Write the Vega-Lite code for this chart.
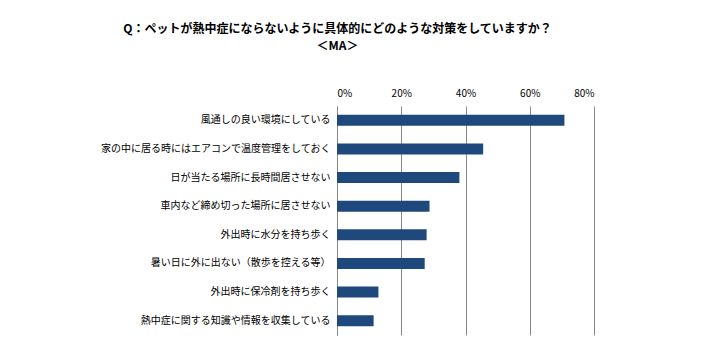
{
  "$schema": "https://vega.github.io/schema/vega-lite/v6.json",
  "autosize": "none",
  "width": 257,
  "height": 229,
  "padding": {"left": 337, "top": 106, "right": 110, "bottom": 22},
  "background": "white",
  "title": {
    "text": ["Q：ペットが熱中症にならないように具体的にどのような対策をしていますか？", "＜MA＞"],
    "font": "Noto Sans CJK JP",
    "fontSize": 12,
    "fontWeight": "bold",
    "color": "#000000",
    "lineHeight": 17,
    "anchor": "middle",
    "frame": "group",
    "dx": -128,
    "offset": 35
  },
  "data": {
    "values": [
      {"item": "風通しの良い環境にしている", "pct": 70.8},
      {"item": "家の中に居る時にはエアコンで温度管理をしておく", "pct": 45.5},
      {"item": "日が当たる場所に長時間居させない", "pct": 38.1},
      {"item": "車内など締め切った場所に居させない", "pct": 28.8},
      {"item": "外出時に水分を持ち歩く", "pct": 27.9},
      {"item": "暑い日に外に出ない（散歩を控える等）", "pct": 27.3},
      {"item": "外出時に保冷剤を持ち歩く", "pct": 12.9},
      {"item": "熱中症に関する知識や情報を収集している", "pct": 11.4}
    ]
  },
  "mark": {"type": "bar", "color": "#1F497D"},
  "encoding": {
    "y": {
      "field": "item",
      "type": "nominal",
      "sort": null,
      "title": null,
      "scale": {"paddingInner": 0.62, "paddingOuter": 0.31},
      "axis": {
        "ticks": false,
        "domain": true,
        "domainColor": "#868686",
        "labelFont": "Noto Sans CJK JP",
        "labelFontSize": 10,
        "labelColor": "#000000",
        "labelPadding": 7,
        "labelLimit": 300
      }
    },
    "x": {
      "field": "pct",
      "type": "quantitative",
      "title": null,
      "scale": {"domain": [0, 80], "nice": false},
      "axis": {
        "orient": "top",
        "values": [0, 20, 40, 60, 80],
        "labelExpr": "datum.value + '%'",
        "ticks": false,
        "domain": false,
        "grid": true,
        "gridColor": "#868686",
        "gridOpacity": 1,
        "labelFont": "Noto Sans CJK JP",
        "labelFontSize": 10,
        "labelColor": "#000000",
        "labelPadding": 8
      }
    }
  },
  "config": {"view": {"stroke": null}}
}
